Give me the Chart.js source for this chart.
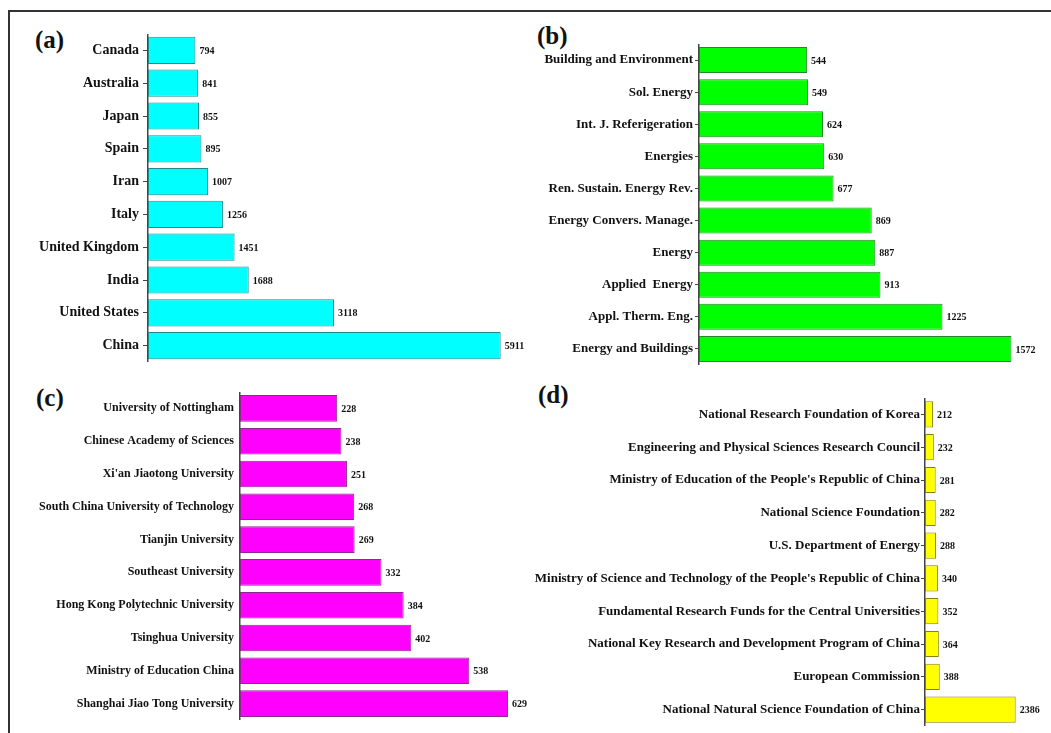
<!DOCTYPE html>
<html>
<head>
<meta charset="utf-8">
<script src="https://cdn.jsdelivr.net/npm/chart.js@4/dist/chart.umd.min.js"></script>
<style>
  body { margin: 0; background: #fff; }
  #page { position: relative; width: 1051px; height: 733px; overflow: hidden; }
  #frame { position: absolute; left: 8px; top: 10px; right: -4px; bottom: -4px;
           border-left: 2px solid #333; border-top: 2px solid #333; }
  canvas { position: absolute; }
  .tag { position: absolute; font: bold 25px "Liberation Serif", "Times New Roman", serif; color: #111; }
</style>
</head>
<body>
<div id="page">
  <div id="frame"></div>
  <div class="tag" style="left:35px;top:26px">(a)</div>
  <div class="tag" style="left:537px;top:22px">(b)</div>
  <div class="tag" style="left:36px;top:384px">(c)</div>
  <div class="tag" style="left:538px;top:381px">(d)</div>
  <canvas id="chartA" width="540" height="328" style="left:0;top:34px"></canvas>
  <canvas id="chartB" width="531" height="321" style="left:520px;top:44px"></canvas>
  <canvas id="chartC" width="540" height="328" style="left:0;top:392px"></canvas>
  <canvas id="chartD" width="531" height="328" style="left:520px;top:398px"></canvas>
</div>
<script>
// (a) countries
const countryLabels = ["Canada", "Australia", "Japan", "Spain", "Iran", "Italy",
  "United Kingdom", "India", "United States", "China"];
const countryValues = [794, 841, 855, 895, 1007, 1256, 1451, 1688, 3118, 5911];

// (b) journals
const journalLabels = ["Building and Environment", "Sol. Energy", "Int. J. Referigeration",
  "Energies", "Ren. Sustain. Energy Rev.", "Energy Convers. Manage.", "Energy",
  "Applied  Energy", "Appl. Therm. Eng.", "Energy and Buildings"];
const journalValues = [544, 549, 624, 630, 677, 869, 887, 913, 1225, 1572];

// (c) institutions
const instLabels = ["University of Nottingham", "Chinese Academy of Sciences",
  "Xi'an Jiaotong University", "South China University of Technology", "Tianjin University",
  "Southeast University", "Hong Kong Polytechnic University", "Tsinghua University",
  "Ministry of Education China", "Shanghai Jiao Tong University"];
const instValues = [228, 238, 251, 268, 269, 332, 384, 402, 538, 629];

// (d) funding agencies
const fundLabels = ["National Research Foundation of Korea",
  "Engineering and Physical Sciences Research Council",
  "Ministry of Education of the People's Republic of China",
  "National Science Foundation", "U.S. Department of Energy",
  "Ministry of Science and Technology of the People's Republic of China",
  "Fundamental Research Funds for the Central Universities",
  "National Key Research and Development Program of China",
  "European Commission", "National Natural Science Foundation of China"];
const fundValues = [212, 232, 281, 282, 288, 340, 352, 364, 388, 2386];

const serif = '"Liberation Serif", "Times New Roman", serif';

// value printed just after the end of each bar
const valueLabels = {
  id: "valueLabels",
  afterDatasetsDraw(chart) {
    const ctx = chart.ctx;
    const meta = chart.getDatasetMeta(0);
    ctx.save();
    ctx.font = "bold 10px " + serif;
    ctx.fillStyle = "#111";
    ctx.textBaseline = "middle";
    meta.data.forEach(function (bar, i) {
      ctx.fillText(chart.data.datasets[0].data[i], bar.x + 4, bar.y + 1);
    });
    ctx.restore();
  },
};

function makeBars(id, labels, values, o) {
  new Chart(document.getElementById(id), {
    type: "bar",
    data: {
      labels: labels,
      datasets: [{
        data: values,
        backgroundColor: o.fill,
        borderColor: o.edge,
        borderWidth: 1,
        borderSkipped: false,
        barPercentage: o.bar,
        categoryPercentage: 1,
      }],
    },
    options: {
      indexAxis: "y",
      responsive: false,
      animation: false,
      layout: { padding: { left: 0, right: o.padRight, top: 0, bottom: 0 } },
      plugins: { legend: { display: false }, tooltip: { enabled: false } },
      scales: {
        x: { display: false, min: 0, max: o.max },
        y: {
          afterFit: function (scale) {
            scale.width = o.axisX;
            // let the category band fill the whole canvas height
            scale.paddingTop = 0;
            scale.paddingBottom = 0;
          },
          grid: {
            offset: false,
            drawOnChartArea: false,
            drawTicks: o.tick > 0,
            tickLength: o.tick,
            color: "#444",
          },
          border: { color: "#444", width: 1.5 },
          ticks: {
            color: "#111",
            padding: o.pad,
            font: { family: serif, weight: "bold", size: o.fontSize },
          },
        },
      },
    },
    plugins: [valueLabels],
  });
}

makeBars("chartA", countryLabels, countryValues, {
  fill: "#00ffff", edge: "#1f8c8c", bar: 0.83, max: 6000,
  axisX: 148, padRight: 34, tick: 5, pad: 4, fontSize: 14,
});
makeBars("chartB", journalLabels, journalValues, {
  fill: "#00ff00", edge: "#2a862a", bar: 0.81, max: 1600,
  axisX: 179, padRight: 34, tick: 4, pad: 2, fontSize: 13,
});
makeBars("chartC", instLabels, instValues, {
  fill: "#ff00ff", edge: "#8c2a8c", bar: 0.81, max: 650,
  axisX: 240, padRight: 23, tick: 0, pad: 6, fontSize: 12,
});
makeBars("chartD", fundLabels, fundValues, {
  fill: "#ffff00", edge: "#8a7d10", bar: 0.8, max: 2500,
  axisX: 405, padRight: 31, tick: 4, pad: 1, fontSize: 13,
});
</script>
</body>
</html>
